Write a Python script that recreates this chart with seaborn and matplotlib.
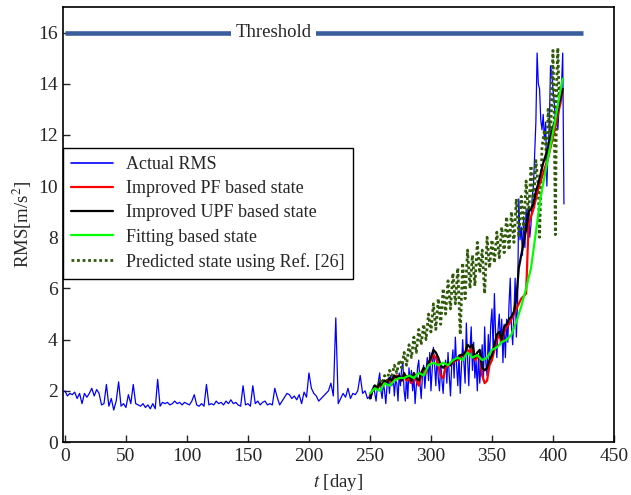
import numpy as np
import pandas as pd
import matplotlib
matplotlib.use("Agg")
import matplotlib.pyplot as plt
import seaborn as sns
from matplotlib.lines import Line2D

# ---------------- data ----------------
# Actual RMS, days 0..248 every 2 days
rms_early = [2.0, 1.8, 1.9, 1.85, 1.95, 1.7, 1.9, 1.5, 1.9, 1.75, 1.9, 2.1, 1.8, 2.05, 1.9,
             1.45, 1.5, 2.25, 1.4, 1.7, 1.25, 1.6, 2.35, 1.4, 1.5, 1.35, 1.85, 1.5, 2.25, 1.5,
             1.45, 1.4, 1.5, 1.35, 1.45, 1.3, 1.5, 1.3, 2.45, 1.4, 1.55, 1.5, 1.55, 1.45, 1.5,
             1.6, 1.5, 1.55, 1.45, 1.55, 1.5, 1.45, 1.6, 1.85, 1.45, 1.4, 1.5, 1.4, 2.25, 1.45,
             1.5, 1.45, 1.6, 1.5, 1.55, 1.45, 1.6, 1.5, 1.65, 1.5, 1.55, 1.45, 1.4, 2.2, 1.45,
             1.5, 1.4, 2.2, 1.5, 1.6, 1.45, 1.55, 1.6, 1.45, 1.5, 1.45, 2.1, 1.75, 1.45, 1.6,
             1.75, 1.9, 1.85, 1.7, 1.8, 1.65, 1.85, 1.5, 1.95, 1.75, 2.7, 2.1, 1.9, 1.8, 1.6,
             1.7, 1.8, 1.9, 2.0, 2.3, 1.8, 4.85, 1.5, 1.7, 1.9, 1.75, 2.1, 1.7, 1.9, 1.85,
             2.0, 2.6, 1.9, 2.0, 1.7]
# Actual RMS, days 250..410 daily
rms_late = [1.8, 1.7, 2.0, 2.2, 1.9, 1.6, 2.1, 2.4, 2.7, 2.0,
            1.7, 2.3, 2.0, 1.5, 2.2, 2.5, 1.9, 2.6, 2.2, 2.6,
            1.8, 2.4, 2.3, 1.6, 2.7, 2.2, 2.9, 3.1, 2.0, 1.6,
            2.6, 1.7, 2.9, 2.3, 2.8, 2.0, 2.6, 1.5, 2.2, 2.9,
            3.2, 2.3, 1.7, 2.6, 3.0, 2.1, 2.8, 3.3, 2.4, 3.5,
            2.0, 2.8, 3.7, 3.0, 2.2, 3.4, 2.5, 2.0, 3.1, 2.4,
            1.9, 2.8, 3.2, 2.3, 3.5, 2.6, 1.8, 3.0, 3.6, 2.5,
            4.1, 3.0, 2.2, 3.4, 1.9, 3.0, 4.0, 3.1, 2.3, 4.65,
            3.3, 2.2, 3.6, 4.5, 2.8, 3.9, 2.5, 3.2, 2.0, 3.4,
            2.3, 3.0, 3.8, 2.4, 4.5, 3.1, 2.6, 4.2, 3.2, 4.6,
            5.2, 3.6, 5.8, 4.2, 3.3, 4.4, 5.0, 3.8, 4.8, 3.1,
            4.6, 3.3, 4.8, 3.9, 5.4, 6.4, 4.5, 3.8, 5.0, 6.4,
            4.1, 5.5, 9.5, 7.9, 8.4, 7.3, 8.8, 7.6, 9.1, 8.2,
            9.2, 8.0, 8.5, 9.6, 10.0, 11.2, 12.5, 15.2, 14.0, 13.8,
            12.6, 12.2, 12.8, 11.8, 12.5, 10.0, 11.5, 12.3, 14.7, 14.4,
            13.8, 13.3, 12.6, 13.0, 12.2, 13.1, 13.5, 13.9, 15.2, 9.3]

# Improved PF / UPF states, days 250..408 every 2 days
pf_state = [1.8, 2.0, 2.1, 2.1, 2.2, 2.3, 2.3, 2.4, 2.4, 2.3, 2.5, 2.6, 2.5, 2.4, 2.6, 2.4,
            2.5, 2.3, 2.6, 2.4, 2.2, 2.6, 2.8, 2.7, 3.0, 3.2, 3.4, 3.3, 3.0, 2.6, 2.5, 2.9,
            3.0, 3.0, 3.1, 3.2, 3.2, 3.3, 3.4, 3.4, 3.6, 3.5, 3.7, 3.2, 3.3, 3.4, 2.6, 2.3,
            2.4, 3.0, 3.2, 3.6, 4.0, 4.2, 3.9, 4.3, 4.5, 4.6, 4.8, 5.0, 5.2, 5.4, 5.6, 5.7,
            5.8, 8.5, 8.8, 9.1, 9.5, 9.9, 10.2, 10.5, 10.8, 11.1, 11.5, 11.9, 12.3, 12.8,
            13.2, 13.7]
upf_state = [1.7, 2.0, 2.2, 2.1, 2.3, 2.2, 2.4, 2.3, 2.5, 2.4, 2.6, 2.5, 2.6, 2.4, 2.7, 2.5,
             2.6, 2.4, 2.7, 2.5, 2.4, 2.7, 2.9, 2.8, 3.1, 3.3, 3.6, 3.5, 3.3, 3.0, 2.9, 3.0,
             3.1, 3.0, 3.2, 3.2, 3.3, 3.4, 3.4, 3.5, 3.8, 3.7, 3.8, 3.3, 3.5, 3.6, 2.9, 2.8,
             2.9, 3.2, 3.4, 3.8, 4.2, 4.3, 4.0, 4.5, 4.6, 4.8, 4.9, 5.1, 5.6, 6.8, 7.3, 7.8,
             8.3, 9.0, 9.1, 9.3, 9.8, 10.1, 10.5, 10.9, 11.2, 11.5, 11.9, 12.3, 12.6, 13.0,
             13.4, 13.8]

# Fitting based state
fit_days = [250, 254, 258, 262, 266, 270, 274, 278, 282, 286, 290, 294, 298, 302, 306, 310,
            314, 318, 322, 326, 330, 334, 338, 342, 346, 350, 354, 358, 362, 366, 370, 374,
            378, 382, 386, 390, 394, 398, 402, 406, 408]
fit_state = [1.9, 2.1, 2.0, 2.3, 2.2, 2.4, 2.5, 2.5, 2.6, 2.5, 2.7, 2.6, 3.0, 3.1, 3.0, 3.1,
             3.0, 3.2, 3.3, 3.2, 3.5, 3.3, 3.4, 3.2, 3.3, 3.6, 3.7, 3.9, 4.0, 4.2, 4.7, 5.3,
             6.0, 6.8, 8.2, 9.6, 10.6, 11.6, 12.6, 13.7, 14.2]

# Predicted state using Ref. [26]
ref_days = [250, 252, 254, 256, 258, 260, 262, 264, 266, 268, 270, 272, 274, 276, 278, 280,
            282, 284, 286, 288, 290, 292, 294, 296, 298, 300, 302, 304, 306, 308, 310, 312,
            314, 316, 318, 320, 322, 324, 326, 328, 330, 332, 334, 336, 338, 340, 342, 344,
            346, 348, 350, 352, 354, 356, 358, 360, 362, 364, 366, 368, 370, 372, 374, 376,
            378, 380, 382, 384, 386, 388, 389, 391, 393, 395, 396, 398, 400, 401, 402, 403,
            404, 405, 406]
ref_state = [1.8, 2.0, 2.2, 2.1, 2.4, 2.3, 2.6, 2.4, 2.8, 2.6, 3.0, 2.7, 3.2, 2.9, 3.5, 3.0,
             3.8, 3.3, 4.1, 3.5, 4.4, 3.8, 4.6, 4.0, 5.0, 4.3, 5.4, 4.4, 5.6, 4.6, 6.0, 5.0,
             6.3, 5.2, 6.6, 5.4, 6.8, 4.2, 7.0, 5.6, 7.5, 6.0, 7.3, 6.1, 7.8, 6.6, 7.5, 5.8,
             8.0, 6.8, 7.9, 7.0, 8.2, 7.2, 8.4, 7.4, 8.8, 7.5, 9.0, 7.8, 9.5, 8.0, 9.6, 8.3,
             10.2, 8.8, 10.8, 9.2, 11.0, 10.0, 8.0, 11.5, 12.2, 11.0, 13.0, 11.8, 15.3, 13.0,
             8.1, 14.0, 15.4, 13.5, 13.9]

threshold = 16
threshold_end = 425
threshold_label = "Threshold"

labels = ["Actual RMS", "Improved PF based state", "Improved UPF based state",
          "Fitting based state", "Predicted state using Ref. [26]"]

# ---------------- build frames ----------------
days_early = np.arange(0, 250, 2)[:len(rms_early)]
days_late = np.arange(250, 250 + len(rms_late))
df_rms = pd.DataFrame({"day": np.concatenate([days_early, days_late]),
                       "v": rms_early + rms_late})
state_days = np.arange(250, 250 + 2 * len(pf_state), 2)
df_pf = pd.DataFrame({"day": state_days, "v": pf_state})
df_upf = pd.DataFrame({"day": state_days[:len(upf_state)], "v": upf_state})
df_fit = pd.DataFrame({"day": fit_days, "v": fit_state})
df_ref = pd.DataFrame({"day": ref_days, "v": ref_state})

# ---------------- style ----------------
sns.set_style("ticks")
plt.rcParams["font.family"] = ["Liberation Serif", "DejaVu Serif"]
plt.rcParams["mathtext.fontset"] = "stix"
plt.rcParams["font.size"] = 14

fig = plt.figure(figsize=(6.31, 4.95), dpi=100)
ax = fig.add_axes([0.100, 0.107, 0.873, 0.879])

c_blue = "#0000FF"
c_red = "#FF0000"
c_black = "#000000"
c_green = "#00FF00"
c_dot = "#2F5A0A"

sns.lineplot(data=df_rms, x="day", y="v", ax=ax, color=c_blue, lw=0.9, estimator=None, sort=False)
sns.lineplot(data=df_ref, x="day", y="v", ax=ax, color=c_dot, lw=2.0,
             linestyle=(0, (1, 1)), estimator=None, sort=False)
sns.lineplot(data=df_pf, x="day", y="v", ax=ax, color=c_red, lw=1.6, estimator=None, sort=False)
sns.lineplot(data=df_upf, x="day", y="v", ax=ax, color=c_black, lw=1.6, estimator=None, sort=False)
sns.lineplot(data=df_fit, x="day", y="v", ax=ax, color=c_green, lw=1.6, estimator=None, sort=False)

ax.hlines(threshold, 0, threshold_end, color="#3A5E9C", lw=3.3, zorder=3)
ax.text(171, threshold, threshold_label, ha="center", va="center", fontsize=13.5,
        bbox=dict(facecolor="white", edgecolor="none", pad=3), zorder=4)

ax.set_xlim(-1.5, 450)
ax.set_ylim(0, 17)
ax.set_xticks(np.arange(0, 451, 50))
ax.set_yticks(np.arange(0, 17, 2))
ax.tick_params(direction="in", length=5, width=1, top=False, right=False, labelsize=14, pad=4)
for s in ax.spines.values():
    s.set_linewidth(1.2)
    s.set_color("black")
ax.set_xlabel("$t$ [day]", fontsize=13.5, labelpad=5)
ax.set_ylabel("RMS[m/s$^2$]", fontsize=13.5, labelpad=3)

handles = [Line2D([], [], color=c_blue, lw=1.2),
           Line2D([], [], color=c_red, lw=1.6),
           Line2D([], [], color=c_black, lw=1.6),
           Line2D([], [], color=c_green, lw=1.6),
           Line2D([], [], color=c_dot, lw=2.0, linestyle=(0, (1, 1)))]
leg = ax.legend(handles, labels, loc="upper left", bbox_to_anchor=(0.0, 0.676),
                borderaxespad=0, frameon=True, fancybox=False, handlelength=2.3,
                handletextpad=0.75, fontsize=13, labelspacing=0.4, borderpad=0.45)
leg.get_frame().set_edgecolor("black")
leg.get_frame().set_linewidth(1.0)
leg.get_frame().set_alpha(1)

fig.savefig("out.png", dpi=100)
